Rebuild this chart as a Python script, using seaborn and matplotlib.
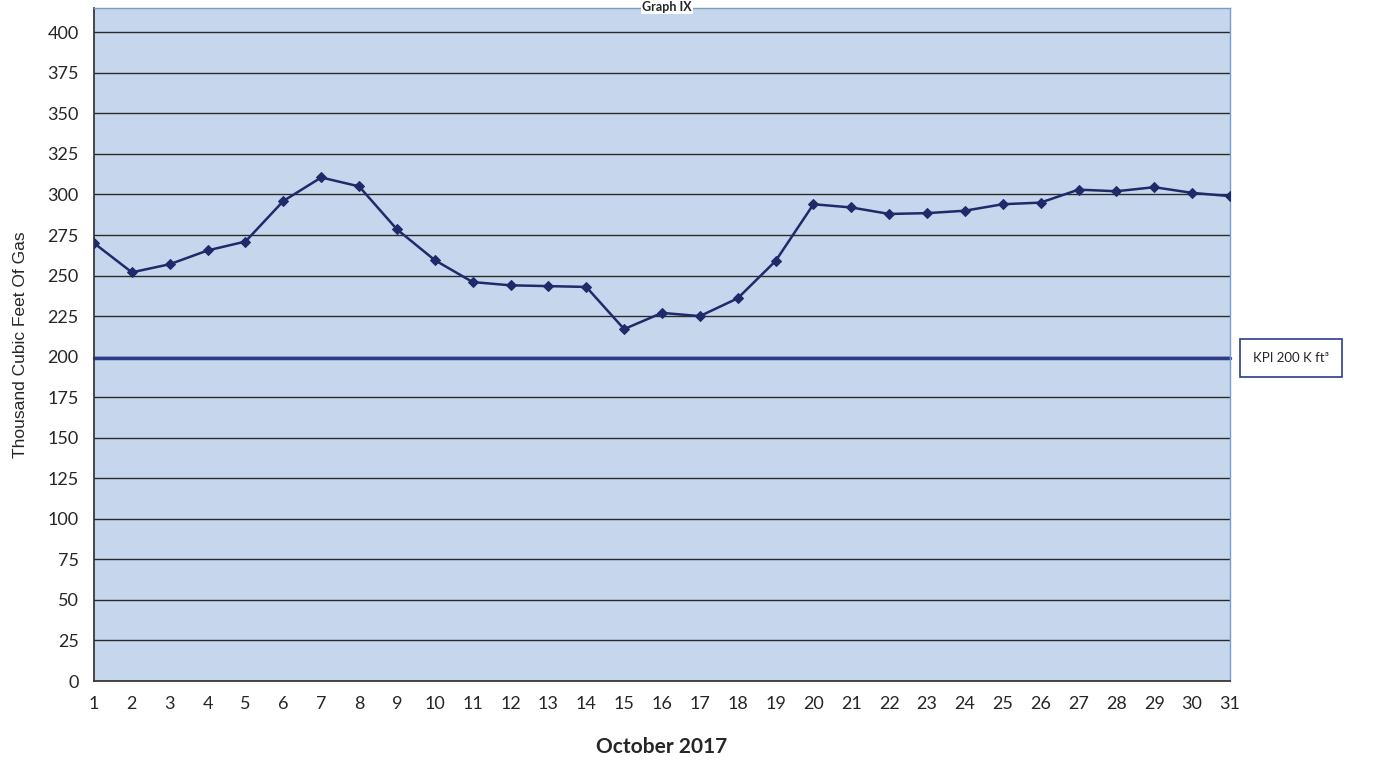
import matplotlib
matplotlib.use("Agg")
import matplotlib.pyplot as plt
import seaborn as sns
import pandas as pd

days = list(range(1, 32))
gas = [270, 252, 257, 265.5, 271, 296, 310.5, 305, 278.5, 259.5, 246, 244, 243.5, 243,
       217, 227, 225, 236, 259, 294, 292, 288, 288.5, 290, 294, 295, 303, 302, 304.5, 301, 299]
kpi_value = 199
yticks = list(range(0, 401, 25))
title = "Graph IX"
xlabel = "October 2017"
ylabel = "Thousand Cubic Feet Of Gas"
kpi_label = "KPI 200 K ft³"

sns.set_theme(style="white")
plt.rcParams['font.family'] = ['Lato', 'DejaVu Sans']

df = pd.DataFrame({"day": days, "gas": gas})

fig = plt.figure(figsize=(13.95, 7.61), dpi=100)
ax = fig.add_axes([0.0674, 0.1051, 0.8143, 0.8844])
ax.set_facecolor("#c6d6ec")

for y in yticks:
    ax.axhline(y, color="#2b2b2b", lw=1.0, zorder=1)

ax.axhline(kpi_value, color="#2c3c8e", lw=2.5, zorder=2, clip_on=False)

sns.lineplot(data=df, x="day", y="gas", ax=ax, color="#1f2a6b", lw=1.8,
             marker="D", markersize=5.5, markeredgecolor="#1f2a6b", zorder=3)

ax.set_xlim(1, 31)
ax.set_ylim(0, 415)
ax.set_xticks(days)
ax.set_xticklabels([str(d) for d in days], fontsize=13)
ax.set_yticks(yticks)
ax.set_yticklabels([str(v) for v in yticks], fontsize=13)
ax.tick_params(axis="both", direction="out", length=5, width=1, color="#333333", pad=6)

for side in ["top", "right"]:
    ax.spines[side].set_color("#7a9cc8")
    ax.spines[side].set_linewidth(1)
ax.spines["left"].set_color("#333333")
ax.spines["bottom"].set_color("#333333")

ax.set_xlabel(xlabel, fontsize=15, fontweight="bold", labelpad=18)
ax.set_ylabel(ylabel, fontsize=12.5, family=['Liberation Sans', 'DejaVu Sans'], labelpad=14)

fig.text(0.478, 0.999, title, fontsize=9, fontweight="bold", ha="center", va="top",
         bbox=dict(boxstyle="square,pad=0.1", facecolor="white", edgecolor="none"))

fig.text(0.9254, 0.5295, kpi_label, fontsize=9.5, ha="center", va="center",
         bbox=dict(boxstyle="square,pad=1.0", facecolor="white", edgecolor="#2c3c8e", lw=1.2))

fig.savefig("out.png", dpi=100)
